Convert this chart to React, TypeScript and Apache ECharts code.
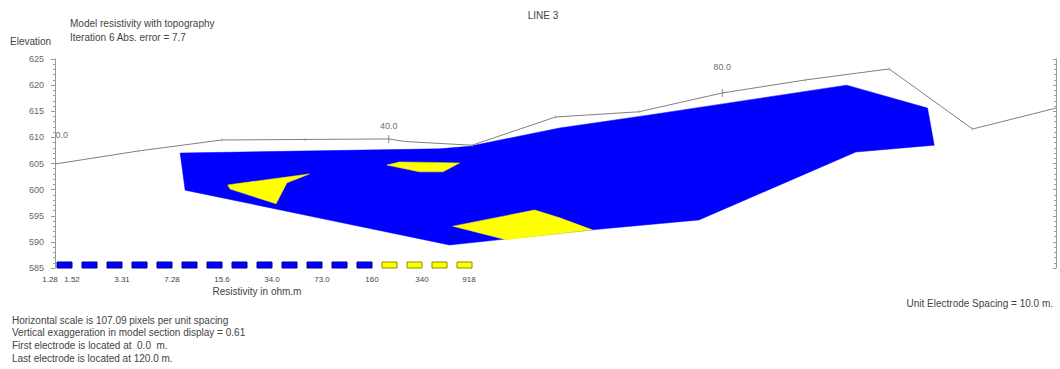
import React, { useEffect, useRef } from "react";
import * as echarts from "echarts";

// Topography along the line (distance m, elevation m)
const topoDist = [0, 10, 20, 30, 40, 42, 50, 60, 70, 80, 90, 100, 110, 120];
const topoElev = [604.9, 607.4, 609.5, 609.6, 609.7, 609.2, 608.5, 613.9, 614.9, 618.5, 621.0, 623.1, 611.6, 615.6];

// Distance labels on the topography
const distLabelDist = [0.8, 40, 80];
const distLabelText = ["0.0", "40.0", "80.0"];
const distLabelElev = [610.5, 612.2, 623.5];

// Model section bodies (distance, elevation)
const blueDist = [15.0, 46.1, 49.7, 60.5, 71.3, 94.9, 104.6, 105.4, 96.0, 77.2, 64.4, 47.3, 15.6];
const blueElev = [607.0, 607.8, 608.3, 611.8, 614.3, 620.0, 615.6, 608.5, 607.2, 594.2, 592.3, 589.4, 599.9];
const yellowLeftDist = [20.7, 30.5, 27.8, 26.5, 21.0];
const yellowLeftElev = [600.9, 603.0, 601.3, 597.3, 600.1];
const yellowMidDist = [39.8, 41.3, 48.5, 46.5, 43.7];
const yellowMidElev = [604.7, 605.3, 605.1, 603.4, 603.4];
const yellowLowDist = [47.7, 57.5, 60.5, 64.4, 54.1];
const yellowLowElev = [593.0, 596.1, 594.6, 592.3, 590.4];

// Legend (resistivity classes)
const legendBoxColors = [
  "blue", "blue", "blue", "blue", "blue", "blue", "blue", "blue", "blue", "blue", "blue", "blue", "blue",
  "yellow", "yellow", "yellow", "yellow",
];
const legendLabels = ["1.28", "1.52", "3.31", "7.28", "15.6", "34.0", "73.0", "160", "340", "918"];
const legendLabelBoundary = [0, 1, 3, 5, 7, 9, 11, 13, 15, 17];

const infoLines = [
  "Horizontal scale is 107.09 pixels per unit spacing",
  "Vertical exaggeration in model section display = 0.61",
  "First electrode is located at  0.0  m.",
  "Last electrode is located at 120.0 m.",
];

const BLUE = "#0000ff";
const YELLOW = "#ffff00";
const FONT = "Liberation Sans, Arial, sans-serif";
const TXT = "#444444";

export default function App() {
  const ref = useRef<HTMLDivElement>(null);

  useEffect(() => {
    if (!ref.current) return;
    const chart = echarts.init(ref.current, undefined, { renderer: "svg" });

    const polygons = [
      { dist: blueDist, elev: blueElev, color: BLUE },
      { dist: yellowLeftDist, elev: yellowLeftElev, color: YELLOW },
      { dist: yellowMidDist, elev: yellowMidElev, color: YELLOW },
      { dist: yellowLowDist, elev: yellowLowElev, color: YELLOW },
    ];

    const electrodes = topoDist
      .map((d, i) => [d, topoElev[i]])
      .filter((p) => p[0] % 10 === 0 && p[0] > 0 && p[0] < 120 && p[0] !== 40 && p[0] !== 80);
    const bigTicks = topoDist
      .map((d, i) => [d, topoElev[i]])
      .filter((p) => p[0] === 40 || p[0] === 80);

    const graphics: any[] = [];
    graphics.push({ type: "text", style: { text: "LINE 3", x: 543, y: 15, font: `10px ${FONT}`, fill: TXT, textAlign: "center", textVerticalAlign: "middle" } });
    graphics.push({ type: "text", style: { text: "Model resistivity with topography", x: 70, y: 23, font: `10px ${FONT}`, fill: TXT, textVerticalAlign: "middle" } });
    graphics.push({ type: "text", style: { text: "Iteration 6 Abs. error = 7.7", x: 70, y: 37, font: `10px ${FONT}`, fill: TXT, textVerticalAlign: "middle" } });
    graphics.push({ type: "text", style: { text: "Elevation", x: 10, y: 41, font: `10px ${FONT}`, fill: TXT, textVerticalAlign: "middle" } });
    legendBoxColors.forEach((c, k) => {
      graphics.push({
        type: "rect",
        shape: { x: 57 + 25 * k, y: 262, width: 15, height: 6 },
        style: { fill: c === "blue" ? BLUE : YELLOW, stroke: c === "blue" ? "#000080" : "#8c8c00", lineWidth: 1 },
      });
    });
    legendLabels.forEach((t, j) => {
      const b = legendLabelBoundary[j];
      const x = b === 0 ? 50 : b === 17 ? 469 : 77 + 25 * (b - 1) - 5;
      graphics.push({ type: "text", style: { text: t, x, y: 279, font: `8px ${FONT}`, fill: TXT, textAlign: "center", textVerticalAlign: "middle" } });
    });
    graphics.push({ type: "text", style: { text: "Resistivity in ohm.m", x: 257, y: 291, font: `10px ${FONT}`, fill: TXT, textAlign: "center", textVerticalAlign: "middle" } });
    graphics.push({ type: "text", style: { text: "Unit Electrode Spacing = 10.0 m.", x: 1053, y: 303, font: `10px ${FONT}`, fill: TXT, textAlign: "right", textVerticalAlign: "middle" } });
    infoLines.forEach((t, i) => {
      graphics.push({ type: "text", style: { text: t, x: 12, y: 320 + 12.7 * i, font: `10px ${FONT}`, fill: TXT, textVerticalAlign: "middle" } });
    });

    const yAxisCommon = {
      type: "value",
      min: 585,
      max: 625,
      interval: 5,
      splitLine: { show: false },
      axisLine: { show: true, lineStyle: { color: "#9a9a9a", width: 1 } },
      minorTick: { show: true, splitNumber: 5, length: 2, lineStyle: { color: "#9a9a9a" } },
    };

    chart.setOption({
      animation: false,
      backgroundColor: "#ffffff",
      grid: { left: 47, right: 4, top: 59, bottom: 101 },
      xAxis: { type: "value", min: -0.96, max: 120, show: false },
      yAxis: [
        {
          ...yAxisCommon,
          position: "left",
          axisTick: { show: true, length: 4, lineStyle: { color: "#9a9a9a" } },
          axisLabel: { show: true, fontSize: 9, color: "#666", margin: 3, fontFamily: FONT },
        },
        {
          ...yAxisCommon,
          position: "right",
          axisTick: { show: true, inside: true, length: 3, lineStyle: { color: "#9a9a9a" } },
          axisLabel: { show: false },
        },
      ],
      graphic: graphics,
      series: [
        {
          type: "custom",
          data: polygons.map((p, i) => [p.dist[0], p.elev[0], i]),
          encode: { x: 0, y: 1 },
          renderItem: (params: any, api: any) => {
            const poly = polygons[params.dataIndex];
            const pts = poly.dist.map((d, i) => api.coord([d, poly.elev[i]]));
            return {
              type: "polygon",
              shape: { points: pts },
              style: { fill: poly.color, stroke: poly.color, lineWidth: 0.5 },
            };
          },
          z: 2,
        },
        {
          type: "line",
          data: topoDist.map((d, i) => [d, topoElev[i]]),
          symbol: "none",
          lineStyle: { color: "#808080", width: 1 },
          z: 3,
        },
        {
          type: "scatter",
          data: electrodes,
          symbol: "rect",
          symbolSize: [1, 3],
          itemStyle: { color: "#a0a0a0" },
          z: 4,
        },
        {
          type: "scatter",
          data: bigTicks,
          symbol: "rect",
          symbolSize: [1, 8],
          itemStyle: { color: "#707070" },
          z: 4,
        },
        {
          type: "scatter",
          data: distLabelDist.map((d, i) => [d, distLabelElev[i], distLabelText[i]]),
          symbolSize: 0,
          label: {
            show: true,
            position: "inside",
            formatter: (p: any) => p.value[2],
            fontSize: 9,
            color: "#444",
            fontFamily: FONT,
          },
          z: 5,
        },
      ],
    });

    return () => chart.dispose();
  }, []);

  return (
    <div
      ref={ref}
      style={{ position: "fixed", left: 0, top: 0, width: 1060, height: 369, background: "#fff" }}
    />
  );
}
